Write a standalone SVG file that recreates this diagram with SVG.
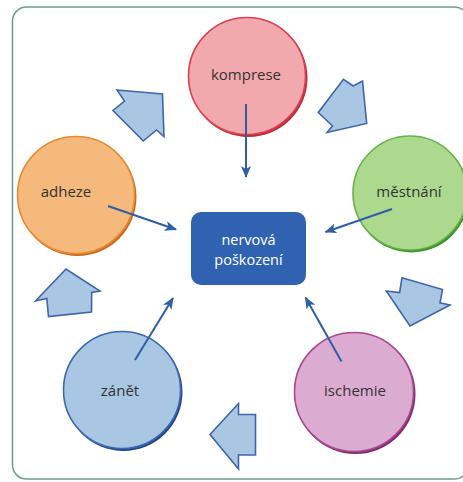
<svg xmlns="http://www.w3.org/2000/svg" width="463" height="482" viewBox="0 0 463 482">
<defs>
<style>
.frame{fill:#ffffff;stroke:#6f9c86;stroke-width:1.5}
.lbl{font-family:"Open Sans","Noto Sans","Liberation Sans",sans-serif;font-size:15px;fill:#333333;text-anchor:middle}
.ctr{font-family:"Open Sans","Noto Sans","Liberation Sans",sans-serif;font-size:14.5px;fill:#ffffff;text-anchor:middle}
.blk{fill:#a9c6e3;stroke:#3e66a8;stroke-width:1.6;stroke-linejoin:miter}
.con{fill:none;stroke:#2f5ea8;stroke-width:2;marker-end:url(#ah)}
</style>
<marker id="ah" viewBox="0 0 12 10" refX="11" refY="5" markerWidth="6" markerHeight="5" markerUnits="strokeWidth" orient="auto">
<path d="M0,0 L12,5 L0,10 L3,5 Z" fill="#2f5ea8"/>
</marker>
</defs>
<rect class="frame" x="12.5" y="7" width="456" height="472" rx="14"/>

<g id="flow-arrows">
<polygon class="blk" points="117,90 162.5,94 164,136.7 156.5,130 143.3,141 113,110.5 124.5,101"/>
<polygon class="blk" points="343.5,79.3 353.3,86 362.5,81 366.7,123.5 327,132.5 332.5,126 318.3,112.5"/>
<polygon class="blk" points="386.3,291 399.6,292.5 402,277.8 442.5,289.5 440,302.8 450,305 410,326"/>
<polygon class="blk" points="255.5,414.5 238.5,414.5 238.5,403.5 210,434.5 238.5,469 238.5,455 255.5,455"/>
<polygon class="blk" points="35.5,301 66,269 100,291 91.7,292.5 91.5,312 48.5,316.5 46.8,298.5"/>
</g>

<g id="komprese">
<circle cx="248.5" cy="78" r="59" fill="#bd2b3c"/>
<circle cx="247" cy="76" r="58.5" fill="#f2a9ae" stroke="#d8414f" stroke-width="1.6"/>
<text class="lbl" x="246" y="80">komprese</text>
</g>
<g id="adheze">
<circle cx="77.5" cy="197" r="59" fill="#c96c22"/>
<circle cx="76" cy="195" r="58.5" fill="#f6b97c" stroke="#e58b36" stroke-width="1.6"/>
<text class="lbl" x="66" y="197">adheze</text>
</g>
<g id="mestnani">
<circle cx="411.5" cy="195" r="57.5" fill="#40922f"/>
<circle cx="410" cy="193" r="57" fill="#add98f" stroke="#63b447" stroke-width="1.6"/>
<text class="lbl" x="409" y="197">městnání</text>
</g>
<g id="nervova-poskozeni">
<rect x="191" y="212" width="115" height="73" rx="10" fill="#2f63b2"/>
<text class="ctr" x="248.5" y="244.5">nervová</text>
<text class="ctr" x="248.5" y="264.5">poškození</text>
</g>
<g id="zanet">
<circle cx="123.5" cy="392" r="59" fill="#25478c"/>
<circle cx="122" cy="390" r="58.5" fill="#a9c7e3" stroke="#3d69ae" stroke-width="1.6"/>
<text class="lbl" x="120" y="396">zánět</text>
</g>
<g id="ischemie">
<circle cx="355.5" cy="394" r="60" fill="#7e2c69"/>
<circle cx="354" cy="392" r="59.5" fill="#dcabd2" stroke="#a8488e" stroke-width="1.6"/>
<text class="lbl" x="355" y="396">ischemie</text>
</g>

<g id="connectors">
<line class="con" x1="246" y1="104" x2="246" y2="177"/>
<line class="con" x1="108" y1="206" x2="176" y2="229.5"/>
<line class="con" x1="392" y1="209" x2="325.5" y2="232"/>
<line class="con" x1="135" y1="360" x2="173" y2="298"/>
<line class="con" x1="341.5" y1="361.5" x2="305.5" y2="297.5"/>
</g>
</svg>
